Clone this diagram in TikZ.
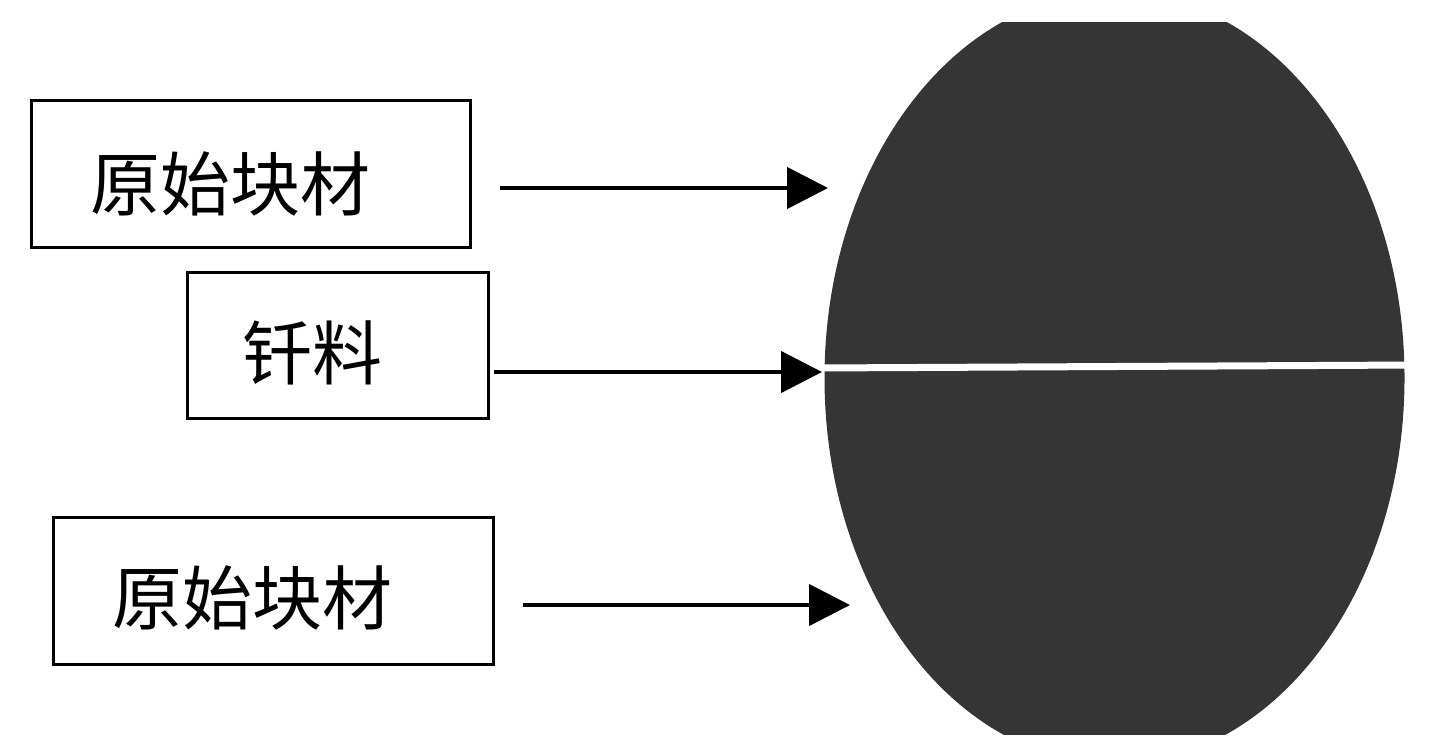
\documentclass[tikz,border=0pt]{standalone}
\usepackage{fontspec}
\newfontfamily\cjk{Noto Sans CJK SC}
\usetikzlibrary{arrows.meta}
\definecolor{shapegray}{HTML}{353535}
\tikzset{
  box/.style={draw=black, line width=1.5pt, inner sep=0pt},
  lbl/.style={inner sep=0pt, font=\cjk\fontsize{35}{40}\selectfont},
  conn/.style={line width=2.2pt, -{Triangle[length=20.5pt,width=20.5pt]}}
}
\begin{document}
\begin{tikzpicture}[x=0.5pt,y=-0.5pt]
\useasboundingbox (0,0) rectangle (1433,751);
% dark body
\begin{scope}
  \clip (0,22) rectangle (1433,734);
  \fill[shapegray] (1114.5,378) ellipse [x radius=290, y radius=386];
\end{scope}
\draw[white, line width=3.5pt] (815,368) -- (1415,365);
% boxes
\node[box, minimum width=219.5pt, minimum height=73.5pt] (b1) at (250.5,173.5) {};
\node[box, minimum width=150.5pt, minimum height=73pt] (b2) at (337.5,345) {};
\node[box, minimum width=220pt, minimum height=73.5pt] (b3) at (273,590.5) {};
\node[lbl] (t1) at (230,184) {原始块材};
\node[lbl] (t2) at (312,353) {钎料};
\node[lbl] (t3) at (252,598) {原始块材};
% arrows
\coordinate (s1) at (500,188); \coordinate (e1) at (828,188);
\coordinate (s2) at (494,372); \coordinate (e2) at (822,372);
\coordinate (s3) at (523,605); \coordinate (e3) at (850,605);
\draw[conn] (s1) -- (e1);
\draw[conn] (s2) -- (e2);
\draw[conn] (s3) -- (e3);
\end{tikzpicture}
\end{document}
